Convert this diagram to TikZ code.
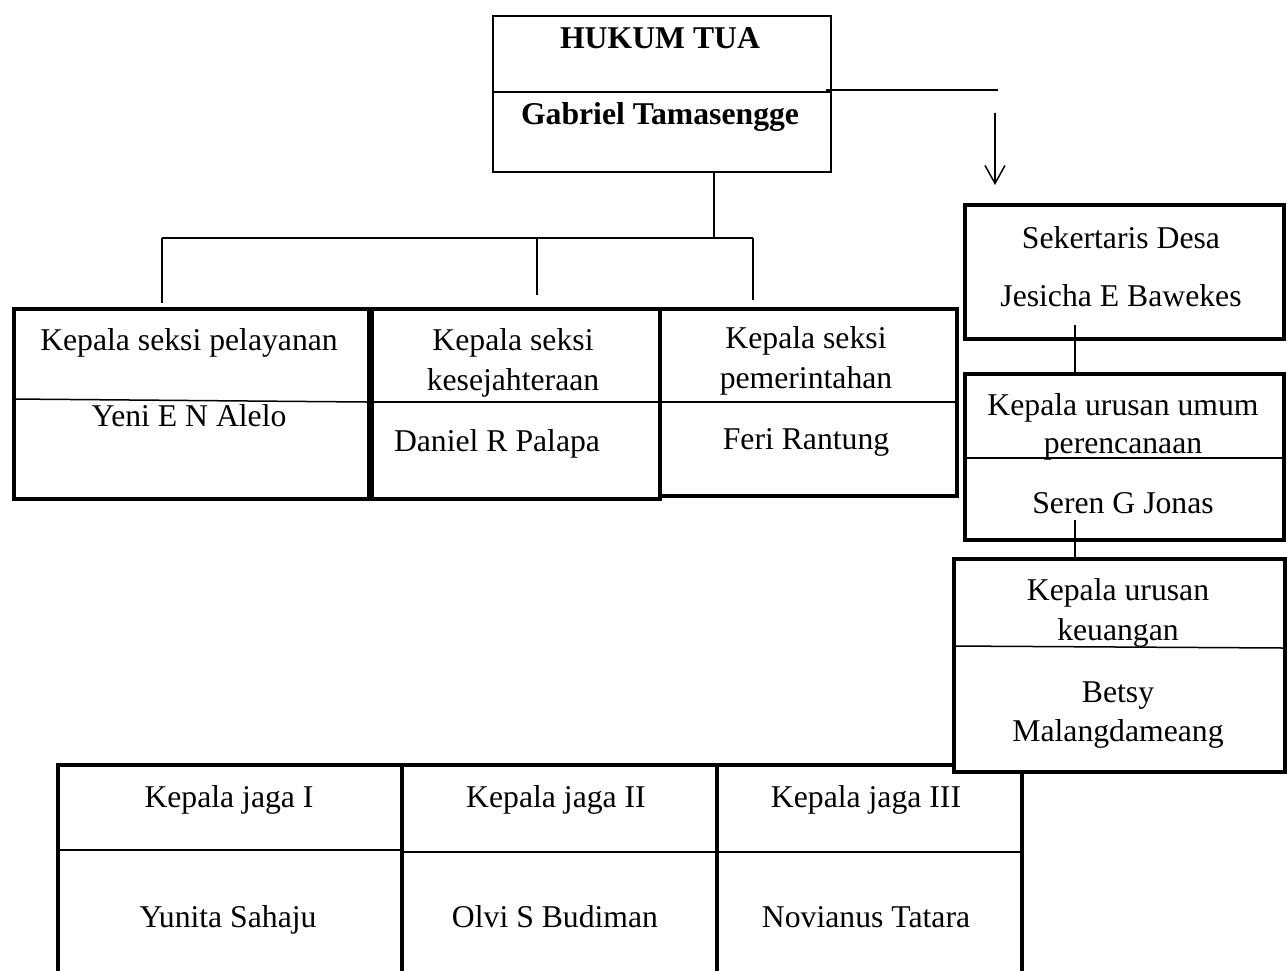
\documentclass[tikz,border=0pt]{standalone}
\usepackage{fontspec}
\setmainfont{Liberation Serif}
\usetikzlibrary{arrows.meta}
\begin{document}
\begin{tikzpicture}[x=1pt,y=-1pt,
  thinline/.style={line width=1.5pt},
  thickbox/.style={draw, line width=4pt, inner sep=0pt, anchor=north west, fill=white},
  thinbox/.style={draw, line width=2pt, inner sep=0pt, anchor=north west},
  lbl/.style={font=\fontsize{31.7}{38}\selectfont, inner sep=0pt, text height=0.66em, text depth=0pt, anchor=center, yshift=-7pt},
  blbl/.style={font=\fontsize{31.7}{38}\selectfont\bfseries, inner sep=0pt, text height=0.66em, text depth=0pt, anchor=center, yshift=-7pt}]
\useasboundingbox (0,0) rectangle (1287,970);
\clip (0,0) rectangle (1287,970);

% Hukum Tua
\node[thinbox, minimum width=338pt, minimum height=156pt] (hukum) at (492,15) {};
\draw[thinline] (492,92) -- (830,92);
\node[blbl] (tHukum) at (660,38) {HUKUM TUA};
\node[blbl] (tGabriel) at (660,114) {Gabriel Tamasengge};

% arrow to sekertaris
\coordinate (aS) at (826,90);
\coordinate (aE) at (998,90);
\coordinate (arT) at (995,113);
\coordinate (arB) at (995,185);
\draw[thinline] (aS) -- (aE);
\draw[thinline, -{Straight Barb[length=18pt,width=20pt]}] (arT) -- (arB);

% branch
\coordinate (trT) at (714,171);
\coordinate (trB) at (714,238);
\coordinate (brL) at (162,238);
\coordinate (brM) at (537,238);
\coordinate (brR) at (753,238);
\coordinate (dA) at (162,303);
\coordinate (dB) at (537,295);
\coordinate (dC) at (753,300);
\draw[thinline] (trT) -- (trB);
\draw[thinline] (brL) -- (brR);
\draw[thinline] (brL) -- (dA);
\draw[thinline] (brM) -- (dB);
\draw[thinline] (brR) -- (dC);

% seksi boxes
\node[thickbox, minimum width=355pt, minimum height=190pt] (seksiA) at (12,307) {};
\node[thickbox, minimum width=288pt, minimum height=190pt] (seksiB) at (370,307) {};
\node[thickbox, minimum width=297pt, minimum height=187pt] (seksiC) at (658,307) {};
\draw[thinline] (12,399) -- (367,402);
\draw[thinline] (370,402) -- (658,402);
\draw[thinline] (658,402) -- (955,402);
\node[lbl] (tA1) at (189,340) {Kepala seksi pelayanan};
\node[lbl] (tA2) at (189,416) {Yeni E N Alelo};
\node[lbl] (tB1) at (513,340) {Kepala seksi};
\node[lbl] (tB2) at (513,380) {kesejahteraan};
\node[lbl] (tB3) at (497,441) {Daniel R Palapa};
\node[lbl] (tC1) at (806,338) {Kepala seksi};
\node[lbl] (tC2) at (806,378) {pemerintahan};
\node[lbl] (tC3) at (806,439) {Feri Rantung};

% right column
\node[thickbox, minimum width=319pt, minimum height=134pt] (sek) at (963,203) {};
\node[lbl] (tS1) at (1121,238) {Sekertaris Desa};
\node[lbl] (tS2) at (1121,296) {Jesicha E Bawekes};

\node[thickbox, minimum width=319pt, minimum height=166pt] (umum) at (963,372) {};
\draw[thinline] (963,458) -- (1282,458);
\node[lbl] (tU1) at (1123,405) {Kepala urusan umum};
\node[lbl] (tU2) at (1123,443) {perencanaan};
\node[lbl] (tU3) at (1123,503) {Seren G Jonas};

\coordinate (l1T) at (1075,325);
\coordinate (l1B) at (1075,372);
\draw[thinline] (l1T) -- (l1B);

% jaga boxes
\node[thickbox, minimum width=344pt, minimum height=240pt] (jaga1) at (56,763) {};
\node[thickbox, minimum width=315pt, minimum height=240pt] (jaga2) at (400,763) {};
\node[thickbox, minimum width=305pt, minimum height=240pt] (jaga3) at (715,763) {};
\draw[thinline] (56,850) -- (400,850);
\draw[thinline] (400,852) -- (1020,852);
\node[lbl] (tJ1) at (229,797) {Kepala jaga I};
\node[lbl] (tJ2) at (556,797) {Kepala jaga II};
\node[lbl] (tJ3) at (866,797) {Kepala jaga III};
\node[lbl] (tN1) at (228,917) {Yunita Sahaju};
\node[lbl] (tN2) at (555,917) {Olvi S Budiman};
\node[lbl] (tN3) at (866,917) {Novianus Tatara};

% keuangan
\node[thickbox, minimum width=331pt, minimum height=213pt] (keu) at (952,557) {};
\draw[thinline] (952,646) -- (1283,648);
\node[lbl] (tK1) at (1118,590) {Kepala urusan};
\node[lbl] (tK2) at (1118,630) {keuangan};
\node[lbl] (tK3) at (1118,692) {Betsy};
\node[lbl] (tK4) at (1118,731) {Malangdameang};

\coordinate (l2T) at (1075,520);
\coordinate (l2B) at (1075,557);
\draw[thinline] (l2T) -- (l2B);
\end{tikzpicture}
\end{document}
